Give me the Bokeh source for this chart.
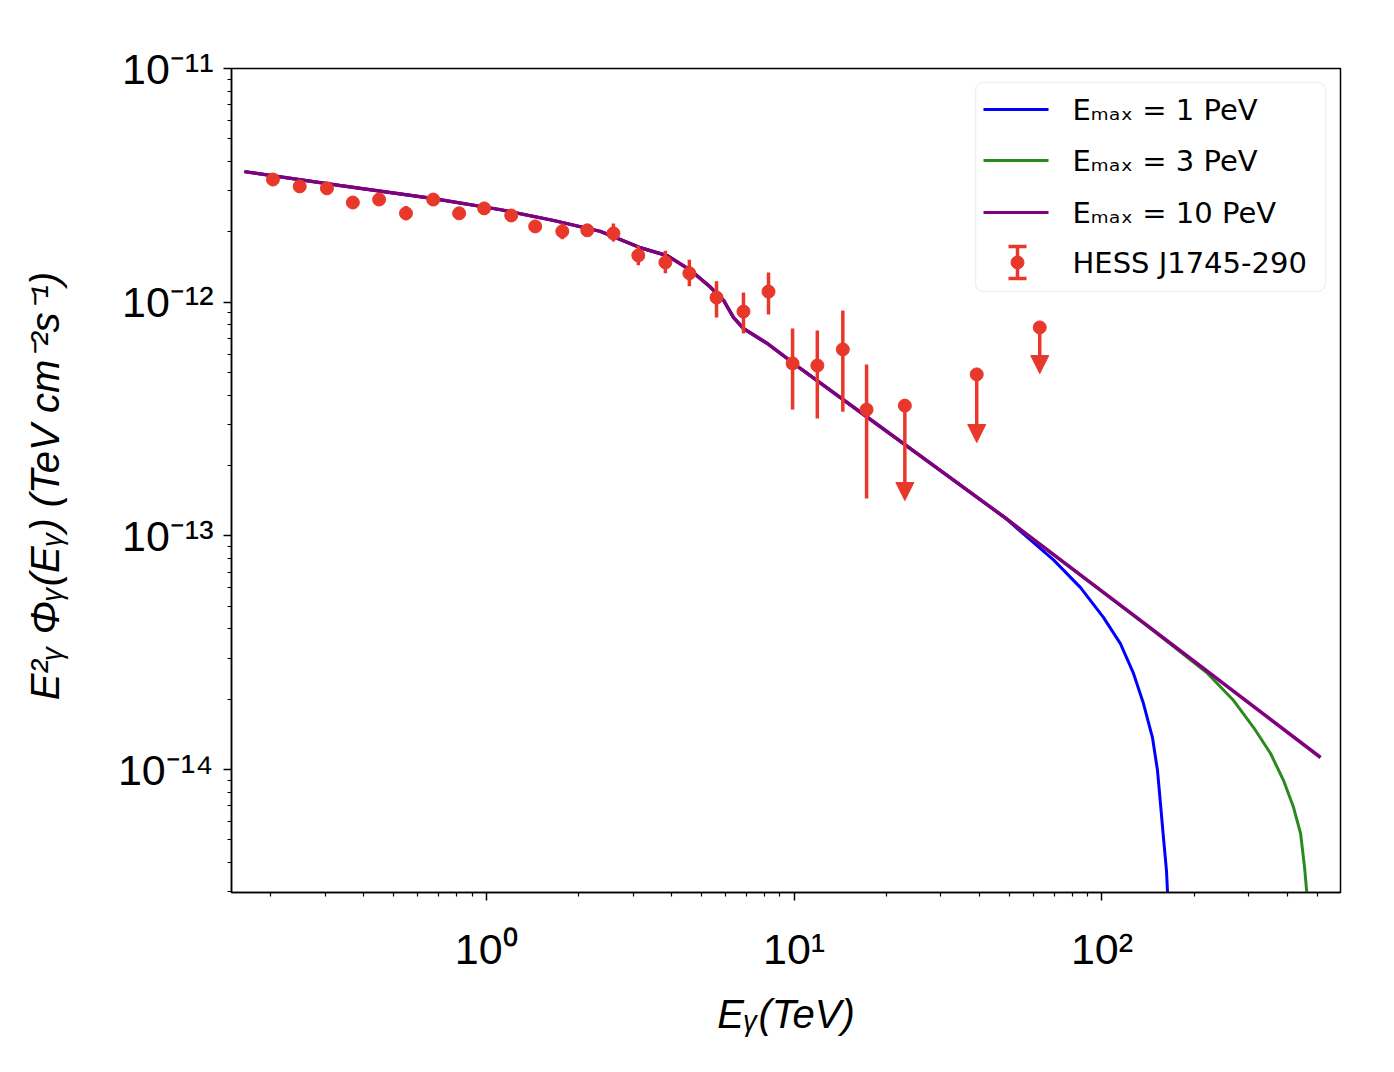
import math
from bokeh.plotting import figure
from bokeh.models import (Range1d, FixedTicker, CustomJSTickFormatter, ColumnDataSource,
                          Arrow, NormalHead, BoxAnnotation)
from bokeh.core.properties import value
from bokeh.embed import file_html
from bokeh.resources import INLINE

# ---------------- data ----------------
# HESS J1745-290 points (TeV, TeV cm^-2 s^-1)
hess_E = [0.203, 0.248, 0.304, 0.369, 0.449, 0.549, 0.673, 0.817, 0.985, 1.206, 1.443, 1.767,
          2.13, 2.59, 3.12, 3.82, 4.57, 5.60, 6.85, 8.26, 9.89, 11.9, 14.4, 17.2]
hess_F = [3.35e-12, 3.13e-12, 3.07e-12, 2.67e-12, 2.75e-12, 2.40e-12, 2.75e-12, 2.40e-12,
          2.52e-12, 2.35e-12, 2.11e-12, 2.01e-12, 2.03e-12, 1.97e-12, 1.585e-12, 1.48e-12,
          1.33e-12, 1.047e-12, 9.12e-13, 1.11e-12, 5.47e-13, 5.36e-13, 6.28e-13, 3.47e-13]
hess_lo = [3.20e-12, 2.99e-12, 2.93e-12, 2.55e-12, 2.63e-12, 2.24e-12, 2.63e-12, 2.29e-12,
           2.40e-12, 2.24e-12, 2.01e-12, 1.86e-12, 1.92e-12, 1.82e-12, 1.44e-12, 1.33e-12,
           1.17e-12, 8.6e-13, 7.35e-13, 8.86e-13, 3.47e-13, 3.18e-13, 3.40e-13, 1.445e-13]
hess_hi = [3.50e-12, 3.27e-12, 3.21e-12, 2.79e-12, 2.87e-12, 2.58e-12, 2.87e-12, 2.51e-12,
           2.64e-12, 2.46e-12, 2.21e-12, 2.17e-12, 2.14e-12, 2.17e-12, 1.75e-12, 1.66e-12,
           1.52e-12, 1.23e-12, 1.10e-12, 1.34e-12, 7.72e-13, 7.57e-13, 9.21e-13, 5.41e-13]

# upper limits
ul_E = [22.9, 39.2, 62.8]
ul_F = [3.61e-13, 4.91e-13, 7.80e-13]
ul_tip = [1.417e-13, 2.51e-13, 4.95e-13]

# model curves: common part then tails
common_E = [0.164, 0.335, 0.672, 1.11, 1.65, 2.35, 3.17, 3.88, 4.61, 5.35, 5.90, 6.36, 6.85,
            8.20, 10.5, 17.3, 28.4, 48.7]
common_F = [3.62e-12, 3.16e-12, 2.78e-12, 2.49e-12, 2.24e-12, 2.01e-12, 1.71e-12, 1.58e-12,
            1.37e-12, 1.16e-12, 1.02e-12, 8.6e-13, 7.71e-13, 6.65e-13, 5.2e-13, 3.22e-13,
            2.0e-13, 1.19e-13]
tail_1PeV_E = [54.4, 69.6, 85.2, 101.1, 114.8, 126.6, 136.4, 145.9, 151.5, 154.9, 158.4,
               162.0, 163.3, 165.1]
tail_1PeV_F = [1.045e-13, 7.9e-14, 6.01e-14, 4.48e-14, 3.46e-14, 2.58e-14, 1.918e-14,
               1.372e-14, 9.91e-15, 7.16e-15, 5.12e-15, 3.70e-15, 2.98e-15, 2.05e-15]
tail_3PeV_E = [54.4, 133.4, 170.9, 220.3, 267.7, 310.9, 352.9, 388.9, 419.2, 441.7, 455.1,
               461.9, 469.0]
tail_3PeV_F = [1.065e-13, 4.33e-14, 3.36e-14, 2.58e-14, 1.975e-14, 1.514e-14, 1.172e-14,
               8.98e-15, 6.88e-15, 5.33e-15, 3.81e-15, 3.04e-15, 2.05e-15]
tail_10PeV_E = [54.4, 133.4, 513.0]
tail_10PeV_F = [1.065e-13, 4.35e-14, 1.127e-14]

legend_labels = ["E\u2098\u2090\u2093 = 1 PeV", "E\u2098\u2090\u2093 = 3 PeV",
                 "E\u2098\u2090\u2093 = 10 PeV", "HESS J1745-290"]
line_colors = ["#0000ff", "#2a8a1f", "#800080"]
RED = "#e8382b"

x_major = [1, 10, 100]
y_major = [1e-14, 1e-13, 1e-12, 1e-11]

# ---------------- figure ----------------
X_MIN, X_MAX = 0.1489, 595.3
Y_MIN, Y_MAX = 2.98e-15, 1e-11
FW, FH = 1109, 824

p = figure(x_axis_type="log", y_axis_type="log",
           x_range=Range1d(X_MIN, X_MAX), y_range=Range1d(Y_MIN, Y_MAX),
           frame_width=FW, frame_height=FH,
           min_border_left=231, min_border_top=68, min_border_right=40, min_border_bottom=170,
           output_backend="svg", toolbar_location=None)
p.background_fill_color = "white"
p.border_fill_color = "white"
p.xgrid.visible = False
p.ygrid.visible = False
p.outline_line_color = "black"
p.outline_line_width = 1.5

x_minor = [m * 10.0 ** k for k in range(-1, 3) for m in range(2, 10) if X_MIN < m * 10.0 ** k < X_MAX]
y_minor = [m * 10.0 ** k for k in range(-15, -11) for m in range(2, 10) if Y_MIN < m * 10.0 ** k < Y_MAX]
p.xaxis.ticker = FixedTicker(ticks=x_major, minor_ticks=x_minor)
p.yaxis.ticker = FixedTicker(ticks=y_major, minor_ticks=y_minor)

fmt_code = """
const sup = {"-": "\\u207b", "0": "\\u2070", "1": "\\u00b9", "2": "\\u00b2", "3": "\\u00b3",
             "4": "\\u2074", "5": "\\u2075", "6": "\\u2076", "7": "\\u2077", "8": "\\u2078", "9": "\\u2079"};
const e = Math.round(Math.log10(tick));
return "10" + String(e).split("").map(c => sup[c]).join("");
"""
for ax in (p.xaxis[0], p.yaxis[0]):
    ax.formatter = CustomJSTickFormatter(code=fmt_code)
    ax.major_label_text_font = "Liberation Sans"
    ax.major_label_text_font_size = "43px"
    ax.major_label_text_color = "black"
    ax.axis_line_color = "black"
    ax.axis_line_width = 1.5
    ax.major_tick_line_color = "black"
    ax.minor_tick_line_color = "black"
    ax.major_tick_line_width = 1.5
    ax.minor_tick_line_width = 1.2
    ax.major_tick_in = 0
    ax.major_tick_out = 8
    ax.minor_tick_in = 0
    ax.minor_tick_out = 4
    ax.axis_label_text_font = "Liberation Sans"
    ax.axis_label_text_font_style = "italic"
    ax.axis_label_text_font_size = "40px"
    ax.axis_label_text_color = "black"

p.xaxis.major_label_standoff = 24
p.yaxis.major_label_standoff = 10
p.xaxis.axis_label = "E\u1d67(TeV)"
p.xaxis.axis_label_standoff = 16
p.yaxis.axis_label = "E\u00b2\u1d67  \u03a6\u1d67(E\u1d67) (TeV cm\u207b\u00b2s\u207b\u00b9)"
p.yaxis.axis_label_standoff = 48

# ---------------- model curves ----------------
blue_E = common_E + tail_1PeV_E
blue_F = common_F + tail_1PeV_F
green_E = common_E + tail_3PeV_E
green_F = common_F + tail_3PeV_F
purple_E = common_E + tail_10PeV_E
purple_F = common_F + tail_10PeV_F

p.line(blue_E, blue_F, line_color=line_colors[0], line_width=3)
p.line(green_E, green_F, line_color=line_colors[1], line_width=3)
p.line(purple_E, purple_F, line_color=line_colors[2], line_width=3.5)

# ---------------- data points ----------------
p.segment(x0=hess_E, y0=hess_lo, x1=hess_E, y1=hess_hi, line_color=RED, line_width=3.5)
p.scatter(hess_E, hess_F, size=13, marker="circle", fill_color=RED, line_color=RED)

ul_src = ColumnDataSource(dict(x=ul_E, y0=ul_F, y1=ul_tip))
p.add_layout(Arrow(source=ul_src, x_start="x", y_start="y0", x_end="x", y_end="y1",
                   line_color=RED, line_width=3.5,
                   end=NormalHead(size=18, fill_color=RED, line_color=RED, line_width=1)))
p.scatter(ul_E, ul_F, size=13, marker="circle", fill_color=RED, line_color=RED)

# ---------------- legend (drawn in frame pixel layout) ----------------
lx0, lx1 = math.log10(X_MIN), math.log10(X_MAX)
ly0, ly1 = math.log10(Y_MIN), math.log10(Y_MAX)


def fx(px):
    return 10 ** (lx0 + px / FW * (lx1 - lx0))


def fy(py):
    return 10 ** (ly1 - py / FH * (ly1 - ly0))


p.add_layout(BoxAnnotation(left=fx(744), right=fx(1094), top=fy(14), bottom=fy(223),
                           fill_color="white", fill_alpha=0.8, line_color="#cfcfcf",
                           line_width=1.5, border_radius=8, level="underlay"))
rows = [41, 92, 144, 194]
for i, c in enumerate(line_colors):
    p.line([fx(752), fx(817)], [fy(rows[i]), fy(rows[i])], line_color=c, line_width=3)
r = rows[3]
p.segment(x0=[fx(786), fx(777), fx(777)], y0=[fy(r - 16), fy(r - 16), fy(r + 16)],
          x1=[fx(786), fx(795), fx(795)], y1=[fy(r + 16), fy(r - 16), fy(r + 16)],
          line_color=RED, line_width=3.5)
p.scatter([fx(786)], [fy(r)], size=13, marker="circle", fill_color=RED, line_color=RED)
p.text(x=[fx(841)] * 4, y=[fy(v) for v in rows], text=legend_labels,
       text_baseline="middle", text_align="left", text_font=value("DejaVu Sans"),
       text_font_size="29px", text_color="black")

open("out.html", "w").write(file_html(p, INLINE))
